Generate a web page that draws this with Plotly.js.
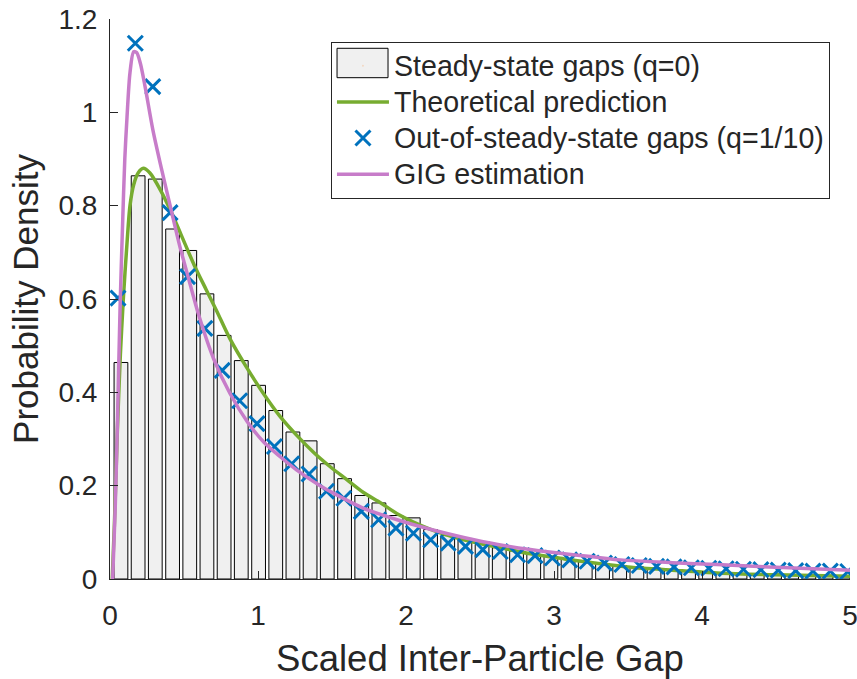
<!DOCTYPE html>
<html>
<head>
<meta charset="utf-8">
<script src="https://cdn.plot.ly/plotly-3.0.1.min.js"></script>
<style>html,body{margin:0;padding:0;background:#fff;}#chart{width:857px;height:679px;}</style>
</head>
<body>
<div id="chart"></div>
<script>
// Histogram of steady-state gaps (q=0): bin centres and densities
const binCenters = [0.074,0.190,0.306,0.423,0.539,0.655,0.771,0.887,1.004,1.120,1.236,1.352,1.468,1.585,1.701,1.817,1.933,2.049,2.166,2.282,2.398,2.514,2.630,2.747,2.863,2.979,3.095,3.211,3.328,3.444,3.560,3.676,3.792,3.909,4.025,4.141,4.257,4.373,4.490,4.606,4.722,4.838,4.954];
const binDensity = [0.464,0.864,0.857,0.750,0.704,0.611,0.522,0.468,0.415,0.361,0.315,0.296,0.247,0.215,0.179,0.163,0.136,0.131,0.106,0.093,0.085,0.074,0.067,0.060,0.053,0.048,0.042,0.037,0.033,0.029,0.026,0.023,0.020,0.018,0.016,0.014,0.012,0.011,0.010,0.009,0.008,0.007,0.006];

// Theoretical prediction curve (green)
const theoryX = [0.015,0.03,0.05,0.07,0.09,0.115,0.135,0.16,0.19,0.225,0.27,0.34,0.41,0.48,0.57,0.65,0.72,0.81,0.92,1.04,1.15,1.27,1.38,1.49,1.60,1.71,1.83,1.94,2.17,2.39,2.62,2.84,3.07,3.30,3.52,3.80,4.10,4.50,5.00];
const theoryY = [0,0.12,0.32,0.48,0.60,0.72,0.80,0.845,0.870,0.880,0.870,0.834,0.789,0.738,0.672,0.620,0.575,0.515,0.455,0.396,0.348,0.305,0.270,0.240,0.213,0.186,0.163,0.140,0.106,0.084,0.068,0.054,0.043,0.033,0.025,0.019,0.013,0.009,0.006];

// Out-of-steady-state gaps (q=1/10)
const gapX = [0.054,0.171,0.289,0.406,0.524,0.641,0.758,0.876,0.993,1.111,1.228,1.345,1.463,1.580,1.698,1.815,1.932,2.050,2.167,2.285,2.402,2.519,2.637,2.754,2.872,2.989,3.106,3.224,3.341,3.459,3.576,3.693,3.811,3.928,4.046,4.163,4.280,4.398,4.515,4.633,4.750,4.867,4.985];
const gapY = [0.602,1.148,1.055,0.785,0.648,0.537,0.447,0.382,0.333,0.284,0.247,0.225,0.188,0.173,0.145,0.127,0.109,0.098,0.084,0.077,0.070,0.063,0.059,0.052,0.050,0.045,0.041,0.038,0.034,0.031,0.029,0.027,0.026,0.024,0.023,0.022,0.021,0.020,0.019,0.018,0.017,0.017,0.016];

// GIG estimation curve (pink)
const gigX = [0.018,0.035,0.05,0.068,0.086,0.10,0.115,0.135,0.16,0.18,0.205,0.237,0.29,0.35,0.41,0.47,0.53,0.60,0.70,0.81,0.93,1.04,1.15,1.26,1.42,1.51,1.71,1.94,2.17,2.39,2.62,2.84,3.07,3.25,3.45,3.80,4.10,4.50,5.00];
const gigY = [0,0.15,0.33,0.58,0.77,0.90,0.99,1.085,1.13,1.128,1.105,1.055,0.962,0.876,0.795,0.715,0.645,0.565,0.472,0.398,0.336,0.293,0.262,0.234,0.200,0.184,0.152,0.127,0.106,0.089,0.074,0.063,0.054,0.048,0.041,0.035,0.031,0.025,0.019];

const yTicks = [0,0.2,0.4,0.6,0.8,1,1.2];
const yTickText = ['0','0.2','0.4','0.6','0.8','1','1.2'];
const xTicks = [0,1,2,3,4,5];
const xTickText = ['0','1','2','3','4','5'];

const seriesNames = ['Steady-state gaps (q=0)','Theoretical prediction','Out-of-steady-state gaps (q=1/10)','GIG estimation'];

const ink = '#262626';
const fontFam = '"Liberation Sans", Arial, Helvetica, sans-serif';
const lg = s => '<span style="font-size:28.6px">' + s + '</span>';

const traces = [
  {type:'bar', x:binCenters, y:binDensity, width:0.093, name:seriesNames[0], showlegend:false,
   marker:{color:'#f0f0f0', line:{color:'#000000', width:1}}},
  // legend entry for the histogram (its wide swatch is drawn as a layout shape)
  {type:'scatter', mode:'markers', x:[null], y:[null], name:lg(seriesNames[0]), showlegend:true,
   marker:{opacity:0, size:1}},
  {type:'scatter', mode:'lines', x:theoryX, y:theoryY, name:lg(seriesNames[1]),
   line:{color:'#77AC30', width:3.5, shape:'spline', smoothing:0.8}},
  {type:'scatter', mode:'markers', x:gapX, y:gapY, name:lg(seriesNames[2]),
   marker:{symbol:'x-thin', size:15, color:'#0072BD', line:{color:'#0072BD', width:3}}},
  {type:'scatter', mode:'lines', x:gigX, y:gigY, name:lg(seriesNames[3]),
   line:{color:'#C77CC9', width:3.5, shape:'spline', smoothing:0.8}}
];

const layout = {
  width:857, height:679,
  margin:{l:110, r:7, t:19, b:100, pad:0},
  paper_bgcolor:'#ffffff', plot_bgcolor:'#ffffff',
  font:{family:fontFam, color:ink, size:28},
  showlegend:true,
  bargap:0,
  xaxis:{range:[0,5], tickvals:xTicks, ticktext:xTickText, ticks:'inside', ticklen:8, tickwidth:1, tickcolor:ink,
         showline:true, linecolor:ink, linewidth:1, mirror:false, showgrid:false, zeroline:false,
         tickfont:{size:28, color:ink, family:fontFam}, ticklabelstandoff:11, ticklabeloverflow:'allow',
         title:{text:'Scaled Inter-Particle Gap', font:{size:36.5, color:ink, family:fontFam}, standoff:18}},
  yaxis:{range:[0,1.2], tickvals:yTicks, ticktext:yTickText, ticks:'inside', ticklen:8, tickwidth:1, tickcolor:ink,
         showline:true, linecolor:ink, linewidth:1, mirror:false, showgrid:false, zeroline:false,
         tickfont:{size:28, color:ink, family:fontFam}, ticklabelstandoff:6,
         title:{text:'Probability Density', font:{size:35, color:ink, family:fontFam}, standoff:9}},
  legend:{x:0.2986, y:0.9595, xanchor:'left', yanchor:'top', bgcolor:'rgba(255,255,255,0)', bordercolor:ink, borderwidth:1,
          font:{size:25.5, color:ink, family:fontFam}, itemwidth:52, traceorder:'normal', tracegroupgap:0},
  shapes:[
    {type:'rect', xref:'paper', yref:'paper', x0:0.2986, x1:0.969, y0:0.683, y1:0.9595, layer:'above',
     fillcolor:'#ffffff', line:{width:0}},
    {type:'rect', xref:'paper', yref:'paper', x0:0.3068, x1:0.3757, y0:0.8952, y1:0.9477, layer:'above',
     fillcolor:'#f0f0f0', line:{color:'#000000', width:1}}
  ]
};

Plotly.newPlot('chart', traces, layout, {displayModeBar:false, staticPlot:true});
</script>
</body>
</html>
